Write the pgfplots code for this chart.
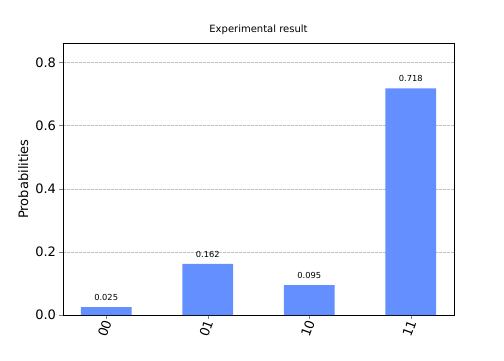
\documentclass[border=0pt]{standalone}
\usepackage{pgfplots}
\pgfplotsset{compat=1.18}
\usepackage{fontspec}
\setmainfont{DejaVu Sans}
\definecolor{barblue}{HTML}{648FFF}
\begin{document}
\begin{tikzpicture}
\path[use as bounding box] (0,0) rectangle (504pt,360pt);
\begin{axis}[
  at={(63pt,45pt)}, anchor=south west,
  scale only axis, width=391pt, height=272pt,
  xmin=-0.425, xmax=3.425, ymin=0, ymax=0.8616,
  xtick={0,1,2,3}, xticklabels={00,01,10,11},
  ytick={0,0.2,0.4,0.6,0.8},
  yticklabel style={/pgf/number format/.cd,fixed,fixed zerofill,precision=1},
  /pgf/number format/assume math mode=true,
  tick label style={font=\fontsize{13}{15}\selectfont},
  xticklabel style={rotate=70, anchor=east, xshift=2pt, yshift=-2pt},
  tick align=outside, tick pos=left,
  major tick length=3.5pt,
  ymajorgrids, grid style={dash pattern=on 2.5pt off 1.5pt, gray!50, line width=0.4pt},
  ylabel={Probabilities}, ylabel style={font=\fontsize{13}{15}\selectfont},
  title={Experimental result}, title style={font=\fontsize{10}{12}\selectfont, yshift=-1pt},
  axis line style={line width=0.8pt},
  ybar, bar width=0.5,
  nodes near coords, every node near coord/.append style={font=\fontsize{8.3}{10}\selectfont, yshift=3pt, /pgf/number format/.cd, fixed, fixed zerofill, precision=3, assume math mode=true},
]
\addplot[fill=barblue, draw=none] coordinates {(0,0.025) (1,0.162) (2,0.095) (3,0.718)};
\end{axis}
\end{tikzpicture}
\end{document}
